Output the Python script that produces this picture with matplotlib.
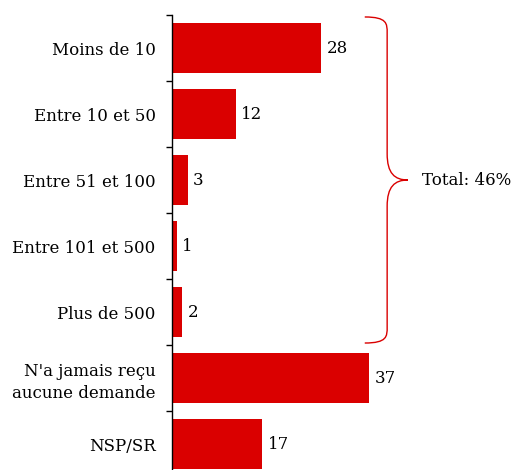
import numpy as np
import matplotlib.pyplot as plt
from matplotlib.path import Path
from matplotlib.patches import PathPatch

categories = ["Moins de 10", "Entre 10 et 50", "Entre 51 et 100", "Entre 101 et 500",
              "Plus de 500", "N'a jamais reçu\naucune demande", "NSP/SR"]
values = [28, 12, 3, 1, 2, 37, 17]
group_last = 4          # brace covers categories 0..4
total_label = "Total: 46%"

red = '#DA0000'
plt.rcParams['font.family'] = ['DejaVu Serif']

fig = plt.figure(figsize=(5.11, 4.70), dpi=100, facecolor='w')
ax = fig.add_axes([171.7 / 511, 1 - 477 / 470, 1 - 171.7 / 511, 462 / 470])

y = np.arange(len(categories))
ax.barh(y, values, height=0.76, color=red)
for yi, v in zip(y, values):
    ax.text(v + 1.0, yi, str(v), va='center', ha='left', fontsize=12)

ax.set_xlim(0, (511 - 171.7) / 5.333)
ax.set_ylim(len(categories) - 0.5, -0.5)
ax.set_yticks(y)
ax.set_yticklabels(categories, fontsize=12, linespacing=1.35)
ax.set_yticks(np.arange(len(categories) + 1) - 0.5, minor=True)
ax.tick_params(axis='y', which='major', length=0, pad=11.5)
ax.tick_params(axis='y', which='minor', length=4, width=1, direction='out')
ax.set_xticks([])
for s in ['top', 'right', 'bottom']:
    ax.spines[s].set_visible(False)
ax.spines['left'].set_linewidth(1)

# curly brace
x0, x1, x2 = 36.2, 40.4, 44.3
top, bot = -0.47, group_last + 0.47
mid = (top + bot) / 2
verts = [
    (x0, top),
    (x1, top), (x1, top + 0.1), (x1, top + 0.24),
    (x1, mid - 0.4),
    (x1, mid - 0.1), (x2 - 2.5, mid), (x2, mid),
    (x2 - 2.5, mid), (x1, mid + 0.1), (x1, mid + 0.4),
    (x1, bot - 0.24),
    (x1, bot - 0.1), (x1, bot), (x0, bot),
]
codes = [Path.MOVETO,
         Path.CURVE4, Path.CURVE4, Path.CURVE4,
         Path.LINETO,
         Path.CURVE4, Path.CURVE4, Path.CURVE4,
         Path.CURVE4, Path.CURVE4, Path.CURVE4,
         Path.LINETO,
         Path.CURVE4, Path.CURVE4, Path.CURVE4]
ax.add_patch(PathPatch(Path(verts, codes), fill=False, edgecolor=red, lw=1.0, clip_on=False))
ax.text(x2 + 2.6, mid, total_label, va='center', ha='left', fontsize=12)

fig.savefig('out.png', dpi=100, facecolor='w')
